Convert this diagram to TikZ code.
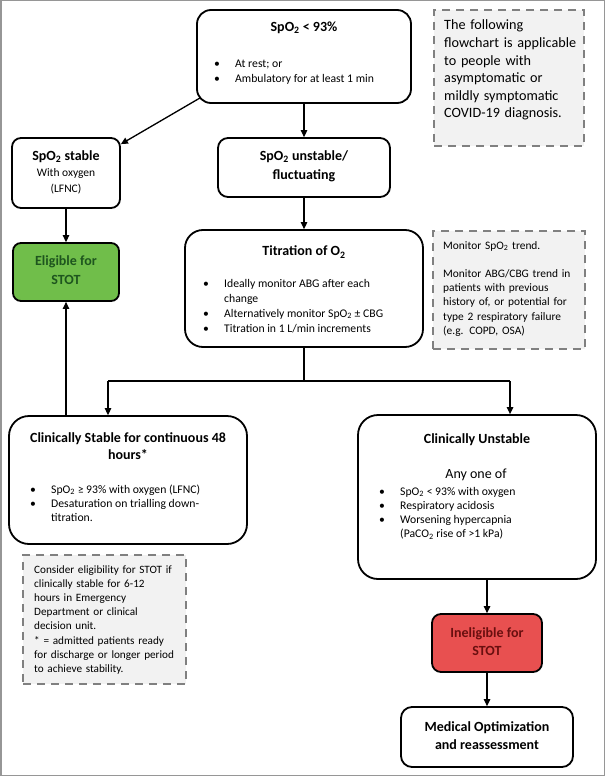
\documentclass[tikz,border=0pt]{standalone}
\usepackage{fontspec}
\setmainfont{Carlito}
\usetikzlibrary{arrows.meta}
\definecolor{notefill}{RGB}{242,242,242}
\definecolor{notedraw}{RGB}{128,128,128}
\definecolor{greenfill}{RGB}{112,190,74}
\definecolor{greentext}{RGB}{30,85,30}
\definecolor{redfill}{RGB}{232,80,80}
\definecolor{redtext}{RGB}{105,15,15}
\definecolor{framegray}{RGB}{150,150,150}
\newenvironment{blt}{\begin{tabular}[t]{@{}p{21pt}@{}l@{}}}{\end{tabular}}
\newcommand{\bb}{\textbullet&}
\tikzset{
  box/.style={draw=black, line width=1.8pt, fill=white, inner sep=0pt},
  note/.style={draw=notedraw, fill=notefill, line width=1.8pt, dash pattern=on 8pt off 6pt, inner sep=0pt},
  ttl/.style={font=\fontsize{14}{17}\selectfont\bfseries, align=center, inner sep=0pt},
  sub/.style={font=\fontsize{11.5}{16}\selectfont, align=center, inner sep=0pt},
  blist/.style={font=\fontsize{11.7}{15}\selectfont, inner sep=0pt, anchor=base west},
  ntext/.style={font=\fontsize{11.4}{14.2}\selectfont, align=left, inner sep=0pt, anchor=base west},
  arr/.style={-{Triangle[length=7pt,width=6.5pt]}, line width=1.3pt},
  ln/.style={line width=1.3pt}
}
\begin{document}
\begin{tikzpicture}[x=1pt,y=-1pt]
\useasboundingbox (0,0) rectangle (605,776);
\draw[framegray, line width=1.5pt] (0.75,0.75) rectangle (604.25,775.25);

% top box
\node[box, rounded corners=14pt, minimum width=214, minimum height=93] (top) at (304,56.5) {};
\node[ttl] (topT) at (304,28) {SpO\textsubscript{2} < 93\%};
\node[blist] (topL) at (214,67) {\begin{blt}\bb At rest; or\\\bb Ambulatory for at least 1 min\end{blt}};

% note 1
\node[note, minimum width=150, minimum height=136] (note1) at (509,78) {};
\node[ntext, font=\fontsize{14.2}{17.6}\selectfont, text width=148] (note1T) at (444,30) {The following\\flowchart is applicable\\to people with\\asymptomatic or\\mildly symptomatic\\COVID-19 diagnosis.};

% SpO2 stable
\node[box, rounded corners=9pt, minimum width=108, minimum height=70] (stable) at (66,173) {};
\node[ttl] (stableT) at (66,157) {SpO\textsubscript{2} stable};
\node[sub] (stableS) at (66,181) {With oxygen\\(LFNC)};

% SpO2 unstable
\node[box, rounded corners=10pt, minimum width=172, minimum height=59] (unstable) at (304,167.5) {};
\node[ttl, font=\fontsize{14}{19}\selectfont\bfseries] (unstableT) at (304,166) {SpO\textsubscript{2} unstable/\\fluctuating};

% Eligible
\node[box, rounded corners=8pt, fill=greenfill, minimum width=106, minimum height=58] (eligible) at (66,272) {};
\node[ttl, font=\fontsize{14}{19}\selectfont\bfseries, text=greentext] (eligibleT) at (66,270.5) {Eligible for\\STOT};

% Titration
\node[box, rounded corners=18pt, minimum width=238, minimum height=117] (titration) at (304,288.5) {};
\node[ttl] (titrationT) at (304,252) {Titration of O\textsubscript{2}};
\node[blist] (titrationL) at (203,287) {\begin{blt}\bb Ideally monitor ABG after each\\&change\\\bb Alternatively monitor SpO\textsubscript{2} ± CBG\\\bb Titration in 1 L/min increments\end{blt}};

% note 2
\node[note, minimum width=152, minimum height=118] (note2) at (509,290) {};
\node[ntext, text width=148] (note2T) at (443,249) {Monitor SpO\textsubscript{2} trend.\\[14.2pt]Monitor ABG/CBG trend in\\patients with previous\\history of, or potential for\\type 2 respiratory failure\\(e.g. COPD, OSA)};

% Clinically stable
\node[box, rounded corners=20pt, minimum width=238, minimum height=128] (cstab) at (128,480) {};
\node[ttl] (cstabT) at (128,446.5) {Clinically Stable for continuous 48\\hours*};
\node[blist, font=\fontsize{11.7}{14}\selectfont] (cstabL) at (30,493) {\begin{blt}\bb SpO\textsubscript{2} ≥ 93\% with oxygen (LFNC)\\\bb Desaturation on trialling down-\\&titration.\end{blt}};

% note 3
\node[note, minimum width=163, minimum height=129] (note3) at (104.5,619.5) {};
\node[ntext, font=\fontsize{11.2}{14.2}\selectfont, text width=160] (note3T) at (34,573) {Consider eligibility for STOT if\\clinically stable for 6-12\\hours in Emergency\\Department or clinical\\decision unit.\\{}* = admitted patients ready\\for discharge or longer period\\to achieve stability.};

% Clinically unstable
\node[box, rounded corners=20pt, minimum width=238, minimum height=164] (cunst) at (477,497) {};
\node[ttl] (cunstT) at (477,440) {Clinically Unstable};
\node[inner sep=0pt, font=\fontsize{14}{17}\selectfont] (anyone) at (476,475) {Any one of};
\node[blist, font=\fontsize{11.7}{14.3}\selectfont] (cunstL) at (379,495) {\begin{blt}\bb SpO\textsubscript{2} < 93\% with oxygen\\\bb Respiratory acidosis\\\bb Worsening hypercapnia\\&(PaCO\textsubscript{2} rise of >1 kPa)\end{blt}};

% Ineligible
\node[box, rounded corners=9pt, fill=redfill, minimum width=110, minimum height=58] (inel) at (487,643) {};
\node[ttl, font=\fontsize{14}{18}\selectfont\bfseries, text=redtext] (inelT) at (487,642) {Ineligible for\\STOT};

% Medical
\node[box, rounded corners=11pt, minimum width=172, minimum height=60] (medical) at (487,737) {};
\node[ttl, font=\fontsize{14}{18}\selectfont\bfseries] (medicalT) at (487,736) {Medical Optimization\\and reassessment};

% connectors
\coordinate (split) at (304,381);
\coordinate (jL) at (108,381);
\coordinate (jR) at (510,381);
\draw[arr] (top.south) -- (unstable.north);
\draw[arr] ([xshift=4pt,yshift=6pt]top.south west) -- ([yshift=-7pt]stable.north east);
\draw[arr] (stable.south) -- (eligible.north);
\draw[arr] (unstable.south) -- (titration.north);
\draw[ln] (titration.south) -- (split);
\draw[ln] (jL) -- (jR);
\draw[arr] (jL) -- (jL |- cstab.north);
\draw[arr] (jR) -- (jR |- cunst.north);
\draw[arr] (cstab.north -| eligible.south) -- (eligible.south);
\draw[arr] (cunst.south -| inel.north) -- (inel.north);
\draw[arr] (inel.south) -- (medical.north);
\end{tikzpicture}
\end{document}
